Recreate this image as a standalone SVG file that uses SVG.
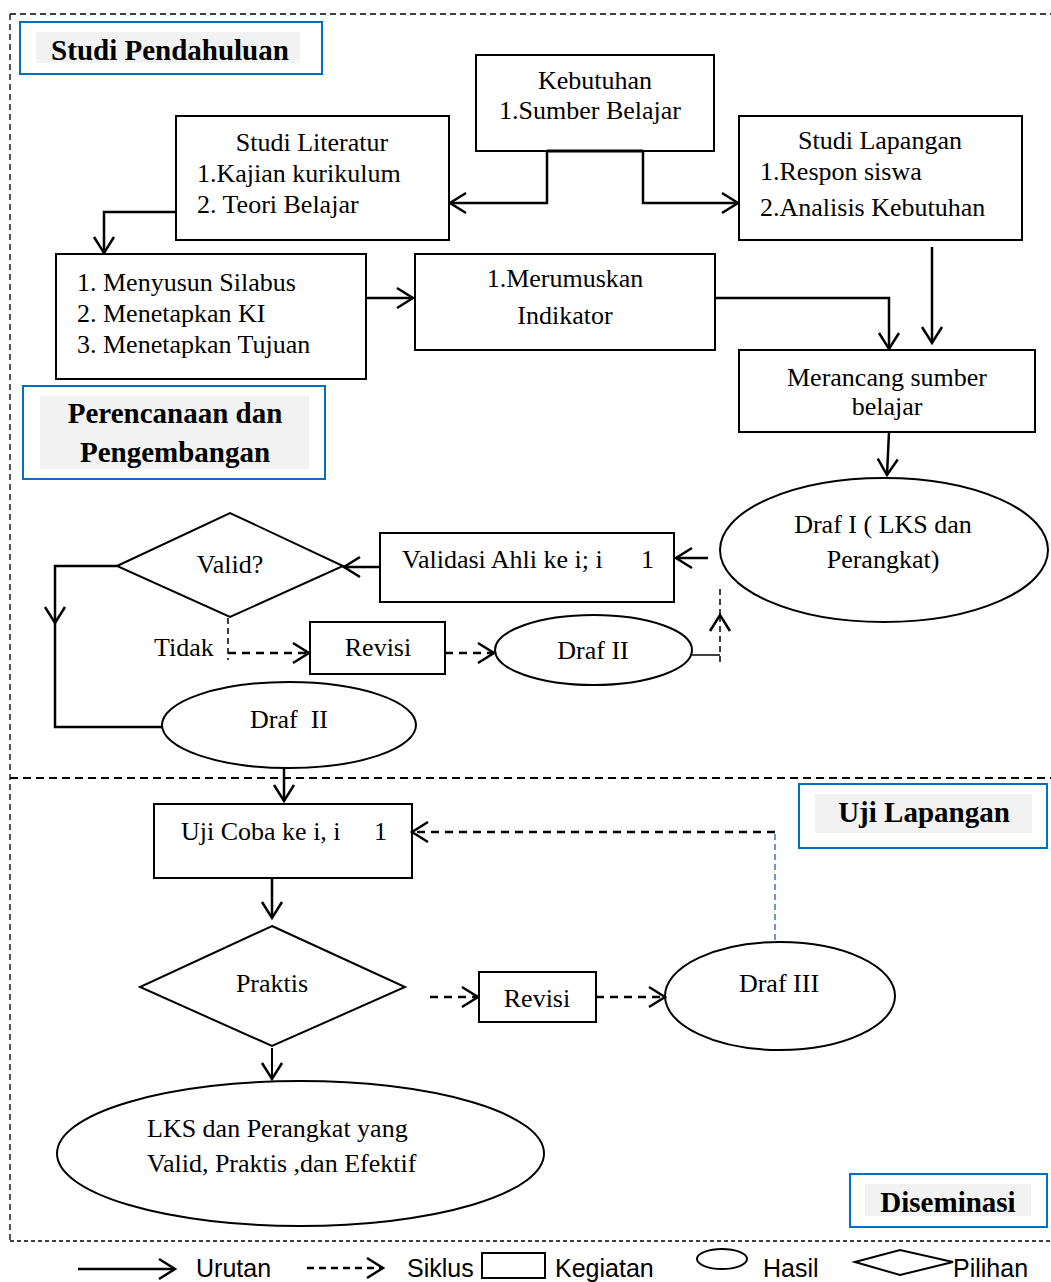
<svg xmlns="http://www.w3.org/2000/svg" width="1051" height="1282" viewBox="0 0 1051 1282">
<style>
.t{font-family:"Liberation Serif","Times New Roman",serif;font-size:26px;fill:#000}
.m{text-anchor:middle}
.pre{white-space:pre}
.b{font-family:"Liberation Serif","Times New Roman",serif;font-size:29px;font-weight:bold;text-anchor:middle;fill:#000}
.box{fill:#fff;stroke:#000;stroke-width:2}
.lbl{fill:#fff;stroke:#0070C0;stroke-width:2}
.lblbg{fill:#f2f2f2}
.c{fill:none;stroke:#000;stroke-width:2.5}
.ct{fill:none;stroke:#000;stroke-width:1.5}
.d{fill:none;stroke:#000;stroke-width:2.5;stroke-dasharray:8 6}
.dt{fill:none;stroke:#000;stroke-width:1.5;stroke-dasharray:6 4}
.frame{fill:none;stroke:#000;stroke-width:1.3;stroke-dasharray:6 4}
.lg{font-family:"Liberation Sans",Arial,sans-serif;font-size:25px;fill:#000}
</style>
<defs>
<marker id="a" markerUnits="userSpaceOnUse" markerWidth="24" markerHeight="24" refX="19" refY="12" orient="auto">
<path d="M3,2 L19,12 L3,22" fill="none" stroke="#000" stroke-width="2.5"/>
</marker>
</defs>
<rect width="1051" height="1282" fill="#fff"/>

<g id="frame">
<path class="frame" d="M10,14 H1051 M10,14 V1241"/>
<path class="frame" d="M10,778 H1051" style="stroke-width:2;stroke-dasharray:8 5"/>
<path class="frame" d="M10,1241 H1051" style="stroke-dasharray:4 3"/>
</g>

<g id="label-studi-pendahuluan">
<rect class="lbl" x="20" y="22" width="302" height="52"/>
<rect class="lblbg" x="36" y="32" width="264" height="31"/>
<text class="b" x="170" y="60">Studi Pendahuluan</text>
</g>

<g id="kebutuhan">
<rect class="box" x="476" y="55" width="238" height="96"/>
<text class="t m" x="595" y="89">Kebutuhan</text>
<text class="t m" x="590" y="119">1.Sumber Belajar</text>
</g>

<g id="studi-literatur">
<rect class="box" x="176" y="116" width="273" height="124"/>
<text class="t m" x="312" y="151">Studi Literatur</text>
<text class="t" x="197" y="182">1.Kajian kurikulum</text>
<text class="t" x="197" y="213">2. Teori Belajar</text>
</g>

<g id="studi-lapangan">
<rect class="box" x="739" y="116" width="283" height="124"/>
<text class="t m" x="880" y="149">Studi Lapangan</text>
<text class="t" x="760" y="180">1.Respon siswa</text>
<text class="t" x="760" y="216">2.Analisis Kebutuhan</text>
</g>

<g id="menyusun">
<rect class="box" x="56" y="254" width="310" height="125"/>
<text class="t" x="77" y="291">1. Menyusun Silabus</text>
<text class="t" x="77" y="322">2. Menetapkan KI</text>
<text class="t" x="77" y="353">3. Menetapkan Tujuan</text>
</g>

<g id="merumuskan">
<rect class="box" x="415" y="254" width="300" height="96"/>
<text class="t m" x="565" y="287">1.Merumuskan</text>
<text class="t m" x="565" y="324">Indikator</text>
</g>

<g id="label-perencanaan">
<rect class="lbl" x="23" y="386" width="302" height="93"/>
<rect class="lblbg" x="40" y="396" width="269" height="73"/>
<text class="b" x="175" y="423">Perencanaan dan</text>
<text class="b" x="175" y="462">Pengembangan</text>
</g>

<g id="merancang">
<rect class="box" x="739" y="350" width="296" height="82"/>
<text class="t m" x="887" y="386">Merancang sumber</text>
<text class="t m" x="887" y="415">belajar</text>
</g>

<g id="draf-1">
<ellipse class="box" cx="884" cy="550" rx="164" ry="72"/>
<text class="t m" x="883" y="533">Draf I ( LKS dan</text>
<text class="t m" x="883" y="568">Perangkat)</text>
</g>

<g id="validasi">
<rect class="box" x="380" y="533" width="294" height="69"/>
<text class="t" x="402" y="568">Validasi Ahli ke i; i</text>
<text class="t" x="641" y="568">1</text>
</g>

<g id="valid">
<polygon class="box" points="117,566 230,513 343,566 230,617"/>
<text class="t m" x="230" y="573">Valid?</text>
</g>

<g id="tidak-label">
<text class="t" x="154" y="656">Tidak</text>
</g>

<g id="revisi-1">
<rect class="box" x="310" y="622" width="135" height="52"/>
<text class="t m" x="378" y="656">Revisi</text>
</g>

<g id="draf-2-revisi">
<ellipse class="box" cx="593.5" cy="650" rx="98.5" ry="35"/>
<text class="t m" x="593" y="659">Draf II</text>
</g>

<g id="draf-2">
<ellipse class="box" cx="289" cy="725" rx="127" ry="43"/>
<text class="t m pre" x="289" y="728">Draf  II</text>
</g>

<g id="label-uji-lapangan">
<rect class="lbl" x="799" y="784" width="248" height="64"/>
<rect class="lblbg" x="815" y="794" width="217" height="39"/>
<text class="b" x="924" y="822">Uji Lapangan</text>
</g>

<g id="uji-coba">
<rect class="box" x="154" y="804" width="258" height="74"/>
<text class="t" x="181" y="840">Uji Coba ke i, i</text>
<text class="t" x="374" y="840">1</text>
</g>

<g id="praktis">
<polygon class="box" points="272,926 405,987 272,1046 140,987"/>
<text class="t m" x="272" y="992">Praktis</text>
</g>

<g id="revisi-2">
<rect class="box" x="479" y="972" width="117" height="50"/>
<text class="t m" x="537" y="1007">Revisi</text>
</g>

<g id="draf-3">
<ellipse class="box" cx="780" cy="996" rx="115" ry="54"/>
<text class="t m" x="779" y="992">Draf III</text>
</g>

<g id="lks-final">
<ellipse class="box" cx="300.5" cy="1153.5" rx="243.5" ry="72.5"/>
<text class="t" x="147" y="1137">LKS dan Perangkat yang</text>
<text class="t" x="147" y="1172">Valid, Praktis ,dan Efektif</text>
</g>

<g id="label-diseminasi">
<rect class="lbl" x="850" y="1174" width="197" height="53"/>
<rect class="lblbg" x="865" y="1184" width="166" height="32"/>
<text class="b" x="948" y="1212">Diseminasi</text>
</g>

<g id="connectors">
<path class="c" d="M547,151 H643" style="stroke-width:3"/>
<path class="c" d="M547,151 V203 H450" marker-end="url(#a)"/>
<path class="c" d="M643,151 V203 H738" marker-end="url(#a)"/>
<path class="c" d="M176,212 H104 V253" marker-end="url(#a)"/>
<path class="c" d="M366,298 H413" marker-end="url(#a)"/>
<path class="c" d="M715,298 H889 V349" marker-end="url(#a)"/>
<path class="c" d="M932,247 V343" marker-end="url(#a)"/>
<path class="c" d="M889,432 L887,475" marker-end="url(#a)"/>
<path class="c" d="M708,558 H676" marker-end="url(#a)"/>
<path class="c" d="M380,567 H344" marker-end="url(#a)"/>
<path class="c" d="M117,566 H55 V623" marker-end="url(#a)"/>
<path class="c" d="M55,623 V727 H162"/>
<path class="dt" d="M228,618 V660"/>
<path class="d" d="M228,653 H309" marker-end="url(#a)"/>
<path class="d" d="M445,653 H494" marker-end="url(#a)"/>
<path class="ct" d="M692,655 H720"/>
<path class="dt" d="M720,662 V615" marker-end="url(#a)"/>
<path class="dt" d="M720,615 V585"/>
<path class="c" d="M284,768 V801" marker-end="url(#a)"/>
<path d="M775,940 V832" fill="none" stroke="#4472C4" stroke-width="1.5" stroke-dasharray="6 4"/>
<path class="d" d="M775,832 H412" marker-end="url(#a)"/>
<path class="c" d="M272,878 V918" marker-end="url(#a)"/>
<path class="d" d="M430,997 H478" marker-end="url(#a)"/>
<path class="d" d="M596,997 H665" marker-end="url(#a)"/>
<path class="c" d="M272,1048 V1079" style="stroke-width:2" marker-end="url(#a)"/>
</g>

<g id="legend">
<path class="c" d="M78,1269 H175" marker-end="url(#a)"/>
<text class="lg" x="196" y="1277">Urutan</text>
<path class="d" d="M307,1268 H383" style="stroke-dasharray:7 5" marker-end="url(#a)"/>
<text class="lg" x="407" y="1277">Siklus</text>
<rect class="box" x="482" y="1253" width="63" height="25"/>
<text class="lg" x="555" y="1277">Kegiatan</text>
<ellipse class="box" cx="722" cy="1259" rx="25" ry="10"/>
<text class="lg" x="763" y="1277">Hasil</text>
<polygon class="box" points="855,1262 900,1250 953,1262 900,1275"/>
<text class="lg" x="953" y="1277">Pilihan</text>
</g>
</svg>
